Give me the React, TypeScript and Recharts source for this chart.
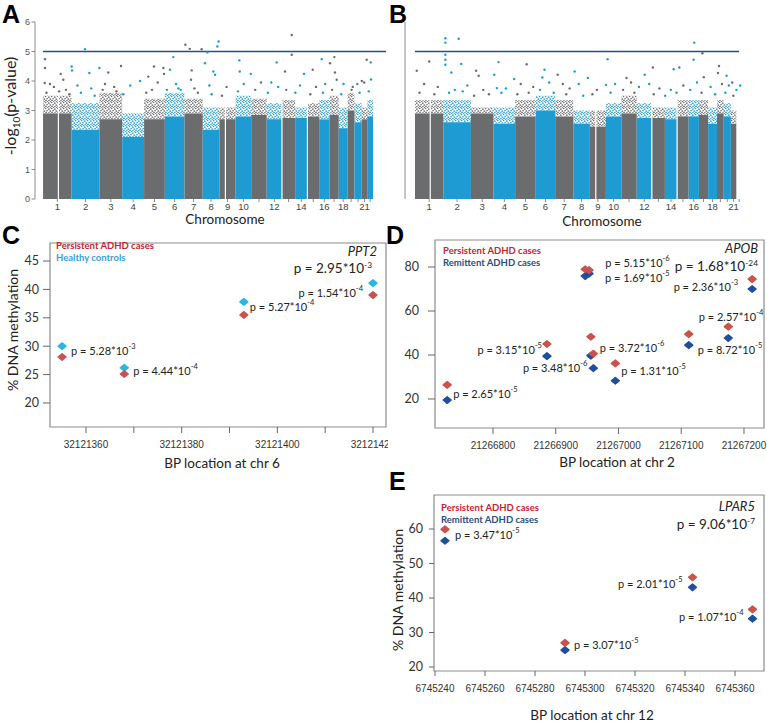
import React from "react";
import { ScatterChart, Scatter, XAxis, YAxis, ReferenceArea, ReferenceLine } from "recharts";

const TICK_FONT = "'Liberation Sans', Arial, sans-serif";
const TEXT_FONT = "Lato, 'Liberation Sans', sans-serif";

const GRAY = "#6b6c6e";
const CYAN = "#1d9bd2";
const THRESHOLD = "#1f4f8d";
const RED = "#c9534f";
const LIGHT_BLUE = "#29b6e9";
const DARK_BLUE = "#1f4f9c";
const AXIS = "#8c8c8c";

// ---- Manhattan plots (A, B) ----
const chromosomes = ["1", "2", "3", "4", "5", "6", "7", "8", "9", "10", "11", "12", "13", "14", "15", "16", "17", "18", "19", "20", "21", "22"];
const chromosomeLengthMb = [249, 243, 198, 191, 181, 171, 159, 146, 141, 136, 135, 133, 115, 107, 102, 90, 81, 78, 59, 63, 48, 51];
const labelledChromosomes = ["1", "2", "3", "4", "5", "6", "7", "8", "9", "10", "12", "14", "16", "18", "21"];
const dataGapsMb = [134, 1590, 2083, 2305];
const significance = 5;

// solid part of the point cloud, then where it thins out
const aDenseTop = [2.9, 2.35, 2.7, 2.1, 2.7, 2.8, 2.9, 2.35, 2.7, 2.8, 2.85, 2.7, 2.75, 2.75, 2.8, 2.7, 2.85, 2.4, 3.0, 2.6, 2.7, 2.8];
const aCloudTop = [3.5, 3.25, 3.6, 2.9, 3.4, 3.6, 3.4, 3.1, 3.1, 3.5, 3.4, 3.25, 3.35, 3.1, 3.25, 3.35, 3.5, 3.1, 3.6, 3.25, 3.1, 3.35];
const aTopHits: [number, number][] = [
  [17, 4.74], [17, 4.44], [15, 3.93], [154, 4.24], [177, 4.04], [250, 4.49], [253, 4.36], [366, 5.08],
  [404, 4.27], [491, 4.44], [569, 4.29], [680, 4.51], [846, 4.0], [918, 4.15], [967, 4.49], [1049, 4.44],
  [1055, 4.24], [1136, 4.81], [1107, 4.38], [1241, 5.23], [1279, 5.09], [1296, 4.36], [1290, 4.04], [1383, 5.08],
  [1433, 4.97], [1412, 4.6], [1530, 5.34], [1520, 5.17], [1485, 4.32], [1500, 4.21], [2168, 5.56], [2168, 4.89],
  [2110, 4.32], [1711, 4.7], [1715, 4.32], [1811, 4.24], [2037, 4.63], [2275, 4.24], [2430, 4.74], [2502, 4.6],
  [2540, 4.81], [2545, 4.29], [2560, 4.04], [2822, 4.72], [2857, 4.63], [2779, 4.0], [2351, 4.38],
  [60, 3.9], [95, 3.8], [200, 3.7], [300, 3.85], [420, 3.75], [540, 3.9], [620, 3.8], [760, 3.85], [950, 3.7],
  [1000, 3.95], [1160, 3.9], [1200, 3.7], [1320, 3.75], [1450, 3.85], [1600, 3.8], [1750, 3.9], [1900, 3.95],
  [1990, 3.95], [2050, 3.8], [2240, 3.85], [2380, 3.8], [2460, 3.9], [2620, 3.9], [2690, 3.7], [2740, 3.9],
  [2800, 3.95], [2860, 4.05], [30, 3.6], [140, 3.65], [230, 3.55], [330, 3.6], [450, 3.5], [520, 3.7],
  [640, 3.65], [700, 3.55], [900, 3.6], [1080, 3.7], [1180, 3.75], [1350, 3.6], [1470, 3.55], [1560, 3.5],
  [1700, 3.65], [1850, 3.7], [1960, 3.6], [2120, 3.7], [2200, 3.6], [2330, 3.55], [2440, 3.6], [2520, 3.7],
  [2600, 3.55], [2700, 3.8], [2760, 3.6], [2840, 3.65],
];

const bDenseTop = [2.9, 2.6, 2.9, 2.55, 2.8, 3.0, 2.8, 2.55, 2.45, 2.8, 2.9, 2.75, 2.75, 2.7, 2.8, 2.8, 2.85, 2.55, 2.9, 2.8, 2.55, 2.7];
const bCloudTop = [3.35, 3.35, 3.1, 3.1, 3.35, 3.5, 3.35, 3.0, 3.0, 3.25, 3.5, 3.25, 3.1, 3.1, 3.35, 3.35, 3.35, 3.1, 3.35, 3.25, 3.0, 3.6];
const bTopHits: [number, number][] = [
  [267, 5.45], [267, 5.3], [384, 5.43], [267, 4.89], [267, 4.72], [267, 4.55], [125, 4.66], [15, 4.35],
  [407, 4.58], [320, 4.29], [538, 4.35], [560, 4.18], [735, 4.64], [697, 4.21], [720, 3.76], [982, 4.57],
  [872, 4.07], [1139, 4.38], [1120, 4.12], [1255, 4.21], [1404, 4.32], [1520, 4.1], [1694, 4.74], [1680, 3.87],
  [1860, 4.1], [2020, 4.21], [2092, 4.46], [2275, 4.4], [2325, 4.46], [2456, 5.3], [2450, 4.72], [2528, 4.94],
  [2540, 4.13], [2674, 4.51], [2665, 4.27], [2740, 4.18], [2790, 3.95], [2827, 3.7],
  [80, 3.9], [200, 3.8], [350, 3.7], [460, 3.85], [600, 3.7], [800, 3.75], [930, 3.9], [1040, 3.8], [1180, 3.95],
  [1300, 3.9], [1360, 3.75], [1440, 3.9], [1600, 3.7], [1760, 3.9], [1900, 3.95], [1970, 3.8], [2060, 3.9],
  [2150, 3.75], [2250, 3.7], [2360, 3.85], [2480, 3.95], [2600, 3.8], [2700, 3.9], [2760, 3.85], [2860, 3.85],
  [40, 3.6], [170, 3.55], [300, 3.6], [420, 3.65], [520, 3.5], [650, 3.55], [760, 3.6], [900, 3.55], [1000, 3.6],
  [1100, 3.7], [1220, 3.6], [1330, 3.55], [1480, 3.5], [1560, 3.55], [1720, 3.6], [1830, 3.7], [1930, 3.6],
  [2100, 3.55], [2200, 3.5], [2300, 3.6], [2420, 3.7], [2520, 3.6], [2640, 3.55], [2730, 3.6], [2800, 3.5],
];

// ---- DNA methylation panels (C, D, E) ----
const cPosition = [32121355, 32121368, 32121393, 32121420];
const cPersistent = [28.1, 25.1, 35.5, 39.0];
const cHealthy = [30.0, 26.2, 37.8, 41.1];
const cPMantissa = ["5.28", "4.44", "5.27", "1.54"];
const cPExponent = ["-3", "-4", "-4", "-4"];

const dPosition = [21266727, 21266886, 21266947, 21266953, 21266956, 21266960, 21266995, 21267112, 21267175, 21267213];
const dPersistent = [26.4, 45.0, 79.0, 78.6, 48.3, 40.6, 36.2, 49.5, 52.9, 74.5];
const dRemittent = [19.5, 39.5, 75.9, 77.0, 39.7, 34.0, 28.3, 44.5, 47.7, 70.0];
const dPMantissa = ["2.65", "3.15", "5.15", "1.69", "3.72", "3.48", "1.31", "8.72", "2.57", "2.36"];
const dPExponent = ["-5", "-5", "-6", "-5", "-6", "-6", "-5", "-5", "-4", "-3"];

const ePosition = [6745244, 6745292, 6745343, 6745367];
const ePersistent = [59.9, 27.0, 46.0, 36.7];
const eRemittent = [56.6, 24.9, 43.1, 34.0];
const ePMantissa = ["3.47", "3.07", "2.01", "1.07"];
const ePExponent = ["-5", "-5", "-5", "-4"];

// where each p-value sits next to its pair of points (px from the red point)
const cPlacement = [
  { dx: 9, dy: -7, anchor: "start" }, { dx: 9, dy: -4, anchor: "start" },
  { dx: 6, dy: -9, anchor: "start" }, { dx: -10, dy: -3, anchor: "end" },
];
const dPlacement = [
  { dx: 6, dy: 8, anchor: "start" }, { dx: -5, dy: 5, anchor: "end" },
  { dx: 20, dy: -7, anchor: "start" }, { dx: 16, dy: 7, anchor: "start" },
  { dx: 9, dy: 10, anchor: "start" }, { dx: -6, dy: 13, anchor: "end" },
  { dx: 6, dy: 7, anchor: "start" }, { dx: 9, dy: 15, anchor: "start" },
  { dx: 35, dy: -11, anchor: "end" }, { dx: -14, dy: 7, anchor: "end" },
];
const ePlacement = [
  { dx: 10, dy: 5, anchor: "start" }, { dx: 9, dy: 1, anchor: "start" },
  { dx: -10, dy: 6, anchor: "end" }, { dx: -9, dy: 7, anchor: "end" },
];

// speckle used to suggest the thinning top of each chromosome's cloud
const speckle = [
  [0.8, 1.2, 0.85], [3.6, 0.5, 0.8], [2.2, 3.1, 0.85], [5.1, 2.6, 0.8],
  [0.9, 4.8, 0.8], [4.0, 4.4, 0.85], [5.6, 5.5, 0.6], [2.6, 5.7, 0.6],
];

function Manhattan({ id, width, yWidth, right, domain, lineEnd, dense, cloud, hits, yLabels }: any) {
  const starts: number[] = [];
  let acc = 0;
  chromosomeLengthMb.forEach((len) => {
    starts.push(acc);
    acc += len;
  });
  const mids = starts.map((s, i) => s + chromosomeLengthMb[i] / 2);
  const chrOf = (pos: number) => {
    let k = 0;
    starts.forEach((s, i) => {
      if (pos >= s) k = i;
    });
    return k;
  };
  const pts = hits.map(([pos, val]: [number, number]) => ({ pos, val, c: chrOf(pos) }));
  const grayPts = pts.filter((p: any) => p.c % 2 === 0);
  const bluePts = pts.filter((p: any) => p.c % 2 === 1);
  const dot = (fill: string) => (p: any) => <circle cx={p.cx} cy={p.cy} r={1.2} fill={fill} />;

  return (
    <ScatterChart width={width} height={230} margin={{ top: 22, right, bottom: 11, left: 0 }}>
      <defs>
        {[GRAY, CYAN].map((c, k) => (
          <pattern key={`p${k}`} id={`${id}-dots-${k}`} width="6" height="6" patternUnits="userSpaceOnUse">
            {speckle.map(([x, y, r], j) => (
              <circle key={j} cx={x} cy={y} r={r} fill={c} />
            ))}
          </pattern>
        ))}
      </defs>
      <XAxis
        type="number"
        dataKey="pos"
        domain={domain}
        ticks={mids}
        interval={0}
        tickFormatter={(v: number) => {
          const name = chromosomes[mids.indexOf(v)];
          return labelledChromosomes.includes(name) ? name : "";
        }}
        axisLine={false}
        tickLine={{ stroke: AXIS }}
        tickSize={3}
        tickMargin={1.5}
        height={20}
        tick={{ fontSize: 9.5, fill: "#444", fontFamily: TICK_FONT }}
      />
      <YAxis
        type="number"
        dataKey="val"
        domain={[0, 6]}
        ticks={[0, 1, 2, 3, 4, 5, 6]}
        interval={0}
        width={yWidth}
        axisLine={{ stroke: AXIS }}
        tickLine={{ stroke: AXIS }}
        tickSize={3.5}
        tickMargin={1.5}
        tick={yLabels ? { fontSize: 9, fill: "#555", fontFamily: TICK_FONT } : false}
      />
      {starts.map((s, i) => (
        <ReferenceArea key={`c${i}`} x1={s} x2={s + chromosomeLengthMb[i]} y1={dense[i]} y2={cloud[i]}
          fill={`url(#${id}-dots-${i % 2})`} fillOpacity={1} stroke="none" />
      ))}
      {starts.map((s, i) => (
        <ReferenceArea key={`d${i}`} x1={s} x2={s + chromosomeLengthMb[i]} y1={0} y2={dense[i]}
          fill={i % 2 === 0 ? GRAY : CYAN} fillOpacity={1} stroke="none" />
      ))}
      {dataGapsMb.map((g) => (
        <ReferenceLine key={g} x={g} stroke="#fff" strokeWidth={1.2} />
      ))}
      <Scatter data={grayPts} shape={dot(GRAY)} isAnimationActive={false} />
      <Scatter data={bluePts} shape={dot(CYAN)} isAnimationActive={false} />
      <ReferenceLine segment={[{ x: 0, y: significance }, { x: lineEnd, y: significance }]} stroke={THRESHOLD} strokeWidth={1.6} />
    </ScatterChart>
  );
}

const Diamond = ({ cx, cy, fill }: any) => (
  <path
    d={`M${cx},${cy - 3.3}L${cx + 4},${cy}L${cx},${cy + 3.3}L${cx - 4},${cy}Z`}
    fill={fill}
    stroke={fill}
    strokeWidth={1.4}
    strokeLinejoin="round"
  />
);

function Methylation(props: any) {
  const {
    width, height, margin, yWidth, xDomain, xTicks, xLabelEvery, yDomain, yTicks,
    positions, persistent, other, otherColour, mantissa, exponent, placement,
    xTickSize, xTickMargin, yTickSize, yTickMargin,
  } = props;
  const redPts = positions.map((bp: number, i: number) => ({ bp, v: persistent[i], i }));
  const otherPts = positions.map((bp: number, i: number) => ({ bp, v: other[i], i }));

  const withLabel = (p: any) => {
    const pl = placement[p.payload.i];
    return (
      <g>
        <Diamond cx={p.cx} cy={p.cy} fill={RED} />
        <text x={p.cx + pl.dx} y={p.cy + pl.dy} textAnchor={pl.anchor} dominantBaseline="central"
          fontFamily={TEXT_FONT} fontSize={11} fill="#222">
          <tspan>{`p = ${mantissa[p.payload.i]}*10`}</tspan>
          <tspan dy={-4} fontSize={7.5}>{exponent[p.payload.i]}</tspan>
        </text>
      </g>
    );
  };

  return (
    <ScatterChart width={width} height={height} margin={margin}>
      <XAxis
        type="number"
        dataKey="bp"
        domain={xDomain}
        ticks={xTicks}
        interval={0}
        tickFormatter={(v: number) => (Math.round(v - xTicks[0]) % xLabelEvery === 0 ? String(v) : "")}
        axisLine={false}
        tickLine={{ stroke: "#666" }}
        tickSize={xTickSize}
        tickMargin={xTickMargin}
        height={30}
        tick={{ fontSize: 10, fill: "#333", fontFamily: TICK_FONT }}
      />
      <YAxis
        type="number"
        dataKey="v"
        domain={yDomain}
        ticks={yTicks}
        interval={0}
        width={yWidth}
        axisLine={false}
        tickLine={{ stroke: "#666" }}
        tickSize={yTickSize}
        tickMargin={yTickMargin}
        tick={{ fontSize: 12.5, fill: "#333", fontFamily: TEXT_FONT }}
      />
      <ReferenceArea x1={xDomain[0]} x2={xDomain[1]} y1={yDomain[0]} y2={yDomain[1]}
        fill="none" fillOpacity={0} stroke={AXIS} strokeWidth={1.2} />
      <Scatter data={otherPts} shape={(p: any) => <Diamond cx={p.cx} cy={p.cy} fill={otherColour} />} isAnimationActive={false} />
      <Scatter data={redPts} shape={withLabel} isAnimationActive={false} />
    </ScatterChart>
  );
}

const Sup = ({ children }: any) => (
  <sup style={{ fontSize: "0.62em", verticalAlign: "super", lineHeight: 0 }}>{children}</sup>
);

function Note({ x, y, align = "left", size, rotate, children, style }: any) {
  let transform = align === "center" ? "translate(-50%, -50%)" : align === "right" ? "translate(-100%, -50%)" : "translate(0, -50%)";
  if (rotate) transform = "translate(-50%, -50%) rotate(-90deg)";
  return (
    <div style={{ position: "absolute", left: x, top: y, transform, whiteSpace: "nowrap", lineHeight: 1, fontSize: size, fontFamily: TEXT_FONT, color: "#222", ...style }}>
      {children}
    </div>
  );
}

const letterStyle = { fontFamily: TICK_FONT, fontWeight: 700, color: "#000" };
const legendStyle = { fontWeight: 700 };

export default function App() {
  return (
    <div style={{ position: "absolute", left: 0, top: 0, width: 767, height: 725, background: "#fff", overflow: "hidden" }}>
      <div style={{ position: "absolute", left: 0, top: 0 }}>
        <Manhattan id="a" width={390} yWidth={35} right={4} domain={[-70, 2990]} lineEnd={2990}
          dense={aDenseTop} cloud={aCloudTop} hits={aTopHits} yLabels />
      </div>
      <div style={{ position: "absolute", left: 380, top: 0 }}>
        <Manhattan id="b" width={387} yWidth={25} right={25} domain={[-88, 2876]} lineEnd={2850}
          dense={bDenseTop} cloud={bCloudTop} hits={bTopHits} yLabels={false} />
      </div>

      <div style={{ position: "absolute", left: 0, top: 230, width: 388, height: 250, overflow: "hidden" }}>
        <Methylation
          width={388} height={250} margin={{ top: 13, right: 2, bottom: 23, left: 0 }} yWidth={50}
          xDomain={[32121352.47, 32121422.72]} xTicks={[32121360, 32121370, 32121380, 32121390, 32121400, 32121410, 32121420]} xLabelEvery={20}
          yDomain={[15.77, 48.17]} yTicks={[20, 25, 30, 35, 40, 45]}
          positions={cPosition} persistent={cPersistent} other={cHealthy} otherColour={LIGHT_BLUE}
          mantissa={cPMantissa} exponent={cPExponent} placement={cPlacement}
          xTickSize={6} xTickMargin={8} yTickSize={7} yTickMargin={4}
        />
      </div>
      <div style={{ position: "absolute", left: 385, top: 230 }}>
        <Methylation
          width={382} height={250} margin={{ top: 10, right: 3, bottom: 22, left: 0 }} yWidth={50}
          xDomain={[21266707.6, 21267231.9]} xTicks={[21266800, 21266900, 21267000, 21267100, 21267200]} xLabelEvery={100}
          yDomain={[6.8, 92.3]} yTicks={[20, 40, 60, 80]}
          positions={dPosition} persistent={dPersistent} other={dRemittent} otherColour={DARK_BLUE}
          mantissa={dPMantissa} exponent={dPExponent} placement={dPlacement}
          xTickSize={6} xTickMargin={8} yTickSize={7} yTickMargin={9}
        />
      </div>
      <div style={{ position: "absolute", left: 385, top: 480 }}>
        <Methylation
          width={382} height={245} margin={{ top: 15, right: 3, bottom: 24, left: 0 }} yWidth={49}
          xDomain={[6745239.6, 6745371.6]} xTicks={[6745240, 6745260, 6745280, 6745300, 6745320, 6745340, 6745360]} xLabelEvery={20}
          yDomain={[18.84, 69.86]} yTicks={[20, 30, 40, 50, 60]}
          positions={ePosition} persistent={ePersistent} other={eRemittent} otherColour={DARK_BLUE}
          mantissa={ePMantissa} exponent={ePExponent} placement={ePlacement}
          xTickSize={5} xTickMargin={9} yTickSize={5} yTickMargin={6}
        />
      </div>

      <Note x={2} y={14} size={25} style={letterStyle}>A</Note>
      <Note x={389} y={14} size={25} style={letterStyle}>B</Note>
      <Note x={2} y={235} size={25} style={letterStyle}>C</Note>
      <Note x={386} y={235} size={25} style={letterStyle}>D</Note>
      <Note x={389} y={481} size={25} style={letterStyle}>E</Note>

      <Note x={10} y={106} size={16} rotate>-log<sub style={{ fontSize: "0.62em", lineHeight: 0 }}>10</sub>(p-value)</Note>
      <Note x={225} y={220} size={13.5} align="center">Chromosome</Note>
      <Note x={602} y={222} size={13.5} align="center">Chromosome</Note>

      <Note x={13} y={330} size={14} rotate>% DNA methylation</Note>
      <Note x={398} y={590} size={14} rotate>% DNA methylation</Note>
      <Note x={222} y={464} size={13.5} align="center">BP location at chr 6</Note>
      <Note x={617} y={463} size={13.5} align="center">BP location at chr 2</Note>
      <Note x={592} y={716} size={13.5} align="center">BP location at chr 12</Note>

      <Note x={56} y={246} size={9.5} style={{ ...legendStyle, color: "#c32630" }}>Persistent ADHD cases</Note>
      <Note x={56} y={258} size={9.5} style={{ ...legendStyle, color: "#3aa0d9" }}>Healthy controls</Note>
      <Note x={443} y={251} size={9.5} style={{ ...legendStyle, color: "#c32630" }}>Persistent ADHD cases</Note>
      <Note x={443} y={263} size={9.5} style={{ ...legendStyle, color: "#2b4d86" }}>Remittent ADHD cases</Note>
      <Note x={441} y={508} size={9.5} style={{ ...legendStyle, color: "#c32630" }}>Persistent ADHD cases</Note>
      <Note x={441} y={520} size={9.5} style={{ ...legendStyle, color: "#2b4d86" }}>Remittent ADHD cases</Note>

      <Note x={377} y={251} size={13} align="right" style={{ fontStyle: "italic" }}>PPT2</Note>
      <Note x={372} y={269} size={13.5} align="right">p = 2.95*10<Sup>-3</Sup></Note>
      <Note x={758} y={248} size={13} align="right" style={{ fontStyle: "italic" }}>APOB</Note>
      <Note x={758} y={267} size={13.5} align="right">p = 1.68*10<Sup>-24</Sup></Note>
      <Note x={755} y={506} size={13} align="right" style={{ fontStyle: "italic" }}>LPAR5</Note>
      <Note x={755} y={525} size={13.5} align="right">p = 9.06*10<Sup>-7</Sup></Note>
    </div>
  );
}
